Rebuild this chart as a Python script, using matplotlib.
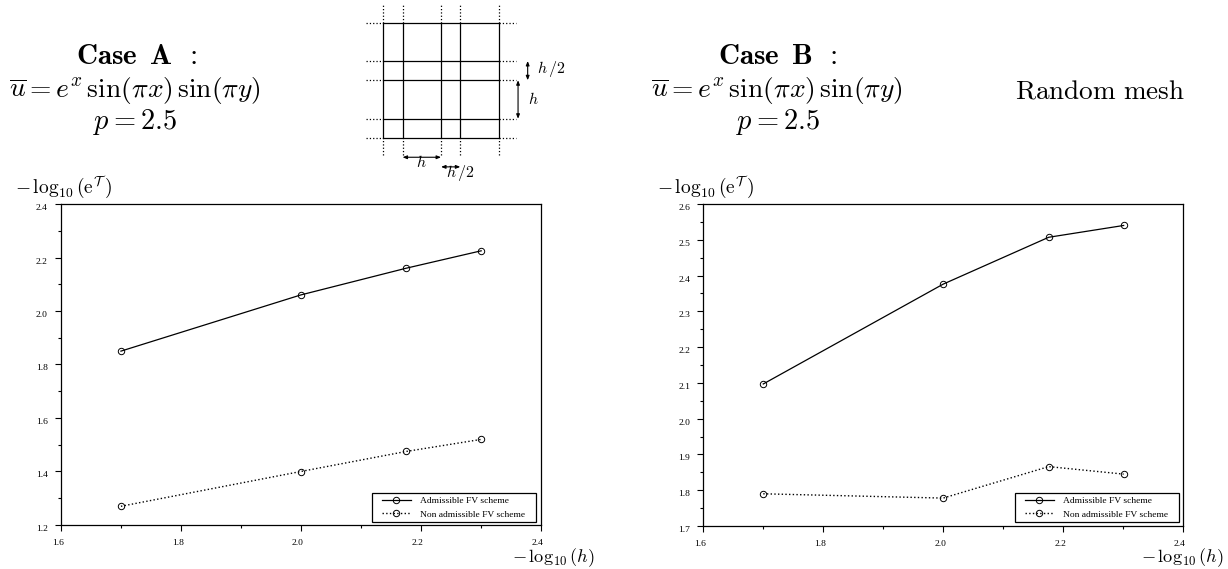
import matplotlib
matplotlib.use("Agg")
import matplotlib.pyplot as plt
from matplotlib.patches import Rectangle
from matplotlib.transforms import ScaledTranslation
from matplotlib.ticker import MultipleLocator, FormatStrFormatter

W, H = 1228, 569
plt.rcParams['font.family'] = ['Liberation Serif', 'DejaVu Serif']
plt.rcParams['mathtext.fontset'] = 'cm'

h_values = [1.7, 2.0, 2.176, 2.301]
case_a_admissible = [1.85, 2.06, 2.16, 2.225]
case_a_non_admissible = [1.27, 1.40, 1.475, 1.52]
case_b_admissible = [2.097, 2.376, 2.507, 2.54]
case_b_non_admissible = [1.79, 1.778, 1.866, 1.845]
series_names = ['Admissible FV scheme', 'Non admissible FV scheme']
mesh_lines = [0, 0.5, 1.5, 2, 3]

fig = plt.figure(figsize=(W / 100, H / 100), dpi=100)


def box(l, t, r, b):
    return [l / W, 1 - b / H, (r - l) / W, (b - t) / H]


def panel(rect, adm, non, ylim, ymaj, ymin, legend_box):
    ax = fig.add_axes(box(*rect))
    ax.plot(h_values, adm, '-', color='k', lw=0.9, marker='o', ms=4.6, mfc='none', mew=0.7, label=series_names[0])
    ax.plot(h_values, non, ':', color='k', lw=1.0, marker='o', ms=4.6, mfc='none', mew=0.7, label=series_names[1])
    ax.set_xlim(1.6, 2.4)
    ax.set_ylim(*ylim)
    ax.xaxis.set_major_locator(MultipleLocator(0.2))
    ax.xaxis.set_minor_locator(MultipleLocator(0.1))
    ax.yaxis.set_major_locator(MultipleLocator(ymaj))
    ax.yaxis.set_minor_locator(MultipleLocator(ymin))
    ax.xaxis.set_major_formatter(FormatStrFormatter('%.1f'))
    ax.yaxis.set_major_formatter(FormatStrFormatter('%.1f'))
    ax.tick_params(which='major', length=4, width=0.8, labelsize=6.8, pad=6)
    ax.tick_params(axis='y', which='major', pad=5.5)
    ax.tick_params(which='minor', length=2, width=0.8)
    dx = ScaledTranslation(-3 / 100, 0, fig.dpi_scale_trans)
    dy = ScaledTranslation(0, -3 / 100, fig.dpi_scale_trans)
    for t in ax.get_xticklabels():
        t.set_transform(t.get_transform() + dx)
    for t in ax.get_yticklabels():
        t.set_transform(t.get_transform() + dy)
    for s in ax.spines.values():
        s.set_linewidth(0.9)
    l, t, r, b = legend_box
    ax.add_patch(Rectangle((l / W, 1 - b / H), (r - l) / W, (b - t) / H, transform=fig.transFigure,
                           fc='white', ec='k', lw=0.9, zorder=4, clip_on=False))
    ax.legend(loc='center left', bbox_to_anchor=((l + 10) / W, 1 - (t + b) / 2 / H),
              bbox_transform=fig.transFigure, fontsize=6.8, frameon=False, borderaxespad=0,
              borderpad=0, handlelength=3.05, handletextpad=0.95, labelspacing=0.55)
    return ax


panel((61, 204, 540.5, 525), case_a_admissible, case_a_non_admissible, (1.2, 2.4), 0.2, 0.1, (372, 493, 536, 522))
panel((703.3, 204, 1183, 526), case_b_admissible, case_b_non_admissible, (1.7, 2.6), 0.1, 0.05, (1015, 493, 1178.5, 522))


def px(x, y, s, size, ha='center', **kw):
    fig.text(x / W, 1 - y / H, s, fontsize=size, ha=ha, va='center', **kw)


formula = r'$\overline{u}=e^{x}\,\sin(\pi x)\,\sin(\pi y)$'
px(136, 57, r'$\mathbf{Case\ \,A\ \,:}$', 21)
px(134.5, 90, formula, 19.8)
px(135, 122, r'$p=2.5$', 20.5)
px(778, 57, r'$\mathbf{Case\ \,B\ \,:}$', 21)
px(776.5, 90, formula, 19.8)
px(778, 122, r'$p=2.5$', 20.5)
px(1100, 92, r'$\mathrm{Random\ mesh}$', 19.6)

ylab = r'$-\,\log_{10}(\mathrm{e}^{\mathcal{T}}\,)$'
xlab = r'$-\,\log_{10}(h)$'
px(64, 188, ylab, 14)
px(706, 188, ylab, 14)
px(553, 558, xlab, 13.2)
px(1182, 558, xlab, 13.2)

# Mesh diagram: one data unit is h
m = fig.add_axes(box(350, 5, 570, 178))
m.set_axis_off()
u = 38.5
m.set_xlim(-33.3 / u, (220 - 33.3) / u)
m.set_ylim(-(178 - 138) / u, (138 - 5) / u)
for v in mesh_lines:
    m.plot([v, v], [0, 3], '-', color='k', lw=0.9)
    m.plot([v, v], [3, 3.45], ':', color='k', lw=0.9)
    m.plot([v, v], [-0.45, 0], ':', color='k', lw=0.9)
    m.plot([0, 3], [v, v], '-', color='k', lw=0.9)
    m.plot([-0.45, 0], [v, v], ':', color='k', lw=0.9)
    m.plot([3, 3.45], [v, v], ':', color='k', lw=0.9)
arrow = dict(arrowstyle='<|-|>,head_length=0.25,head_width=0.1', color='k', lw=0.8, shrinkA=0, shrinkB=0)
m.annotate('', (0.5, -0.5), (1.5, -0.5), arrowprops=arrow)
m.annotate('', (1.5, -0.75), (2, -0.75), arrowprops=arrow)
m.annotate('', (3.5, 0.5), (3.5, 1.5), arrowprops=arrow)
m.annotate('', (3.75, 1.5), (3.75, 2), arrowprops=arrow)
m.text(1, -0.66, r'$h$', fontsize=11.5, ha='center', va='center')
m.text(2.0, -0.92, r'$h\,/2$', fontsize=11.5, ha='center', va='center')
m.text(3.75, 1.0, r'$h$', fontsize=11.5, ha='left', va='center')
m.text(4.0, 1.8, r'$h\,/2$', fontsize=11.5, ha='left', va='center')

fig.savefig('out.png', dpi=100)
